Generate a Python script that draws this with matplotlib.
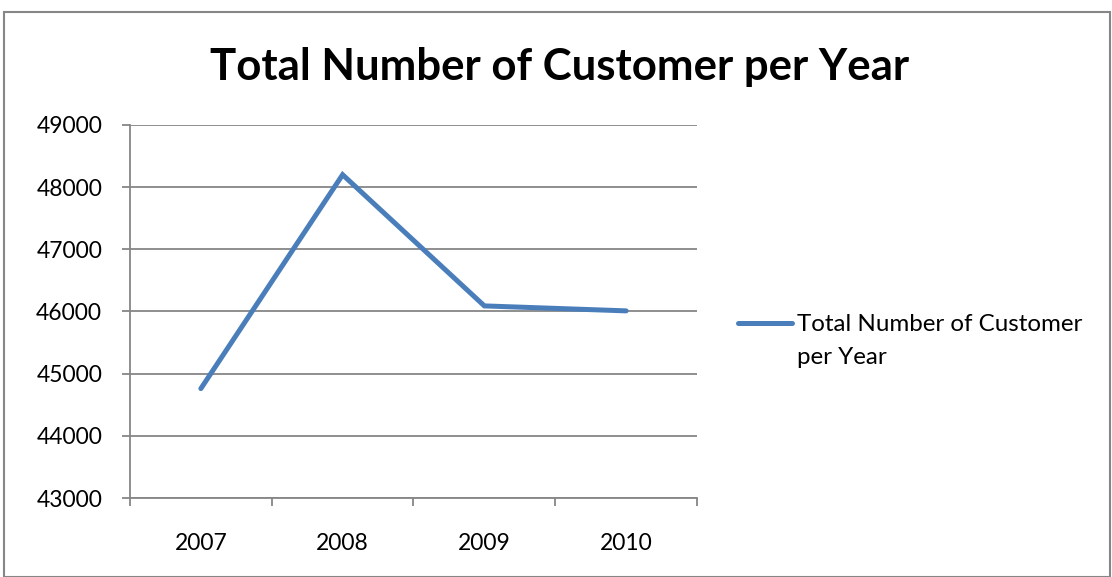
import matplotlib.pyplot as plt
from matplotlib.lines import Line2D
from matplotlib.patches import Rectangle

# data
years = ["2007", "2008", "2009", "2010"]
customers = [44760, 48200, 46090, 46010]
series_name = "Total Number of Customer per Year"

plt.rcParams['font.family'] = ['Lato', 'DejaVu Sans']
LINE_COLOR = "#4A7EBB"
GRID_COLOR = "#868686"

fig = plt.figure(figsize=(11.12, 5.77), dpi=100)
ax = fig.add_axes([0.1169, 0.1369, 0.5099, 0.6465])

x = list(range(len(years)))
ax.plot(x, customers, color=LINE_COLOR, linewidth=3.6, solid_joinstyle="miter",
        solid_capstyle="round")

ax.set_ylim(43000, 49000)
ax.set_yticks(range(43000, 49001, 1000))
ax.set_xlim(-0.5, len(years) - 0.5)
ax.set_xticks(x)
ax.set_xticklabels(years)
ax.set_xticks([i - 0.5 for i in range(len(years) + 1)], minor=True)

ax.grid(axis="y", color=GRID_COLOR, linewidth=1.3)
ax.set_axisbelow(True)
for side in ["top", "right"]:
    ax.spines[side].set_visible(False)
for side in ["left", "bottom"]:
    ax.spines[side].set_color(GRID_COLOR)
    ax.spines[side].set_linewidth(1.3)

ax.tick_params(axis="x", which="major", length=0, pad=25, labelsize=16.5)
ax.tick_params(axis="x", which="minor", length=6, color=GRID_COLOR, width=1.3)
ax.tick_params(axis="y", length=6, color=GRID_COLOR, width=1.3, pad=14, labelsize=16.5)

fig.suptitle(series_name, x=0.503, y=0.918, fontsize=31.5, fontweight="bold")

# legend, drawn by hand so the key sits beside the first line of text
fig.add_artist(Line2D([738 / 1112, 792 / 1112], [1 - 323 / 577, 1 - 323 / 577],
                      transform=fig.transFigure, color=LINE_COLOR, linewidth=3.6,
                      solid_capstyle="round"))
fig.text(797 / 1112, 1 - 331 / 577, "Total Number of Customer",
         ha="left", va="baseline", fontsize=17.4)
fig.text(797 / 1112, 1 - 364 / 577, "per Year",
         ha="left", va="baseline", fontsize=17.4)

# outer chart border
fig.add_artist(Rectangle((0.004, 0.0), 0.994, 0.979, transform=fig.transFigure,
                         fill=False, edgecolor=GRID_COLOR, linewidth=1.5))

fig.savefig("out.png", dpi=100)
